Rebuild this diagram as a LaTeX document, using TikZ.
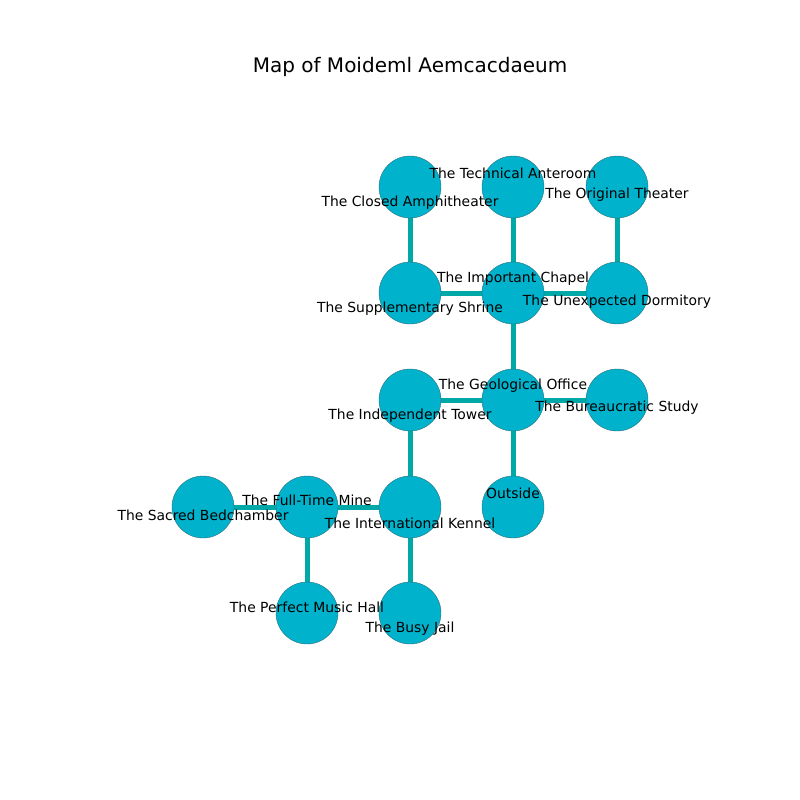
\documentclass[tikz,border=0pt]{standalone}
\usepackage{fontspec}
\setmainfont{DejaVu Sans}
\definecolor{nodefill}{HTML}{00B2CC}
\definecolor{edgecol}{HTML}{00A8A8}
\definecolor{rimcol}{HTML}{2A6E7A}
\pgfdeclarelayer{bg}
\pgfsetlayers{bg,main}
\begin{document}
\begin{tikzpicture}[x=1pt,y=-1pt,
  room/.style={circle,fill=nodefill,draw=rimcol,line width=0.4pt,minimum size=62pt,inner sep=0pt},
  link/.style={draw=edgecol,line width=5pt},
  lbl/.style={font=\fontsize{13.9}{16}\selectfont,text=black,inner sep=0pt,anchor=center}]
\useasboundingbox (0,0) rectangle (800,800);
\node[font=\fontsize{20}{24}\selectfont,inner sep=0pt] (title) at (410,67) {Map of Moideml Aemcacdaeum};
% nodes
\node[room] (amph) at (410,187) {};
\node[room] (ante) at (513,187) {};
\node[room] (theater) at (617,187) {};
\node[room] (shrine) at (410,293) {};
\node[room] (chapel) at (513,293) {};
\node[room] (dorm) at (617,293) {};
\node[room] (tower) at (410,400) {};
\node[room] (office) at (513,400) {};
\node[room] (study) at (617,400) {};
\node[room] (bed) at (203,507) {};
\node[room] (mine) at (307,507) {};
\node[room] (kennel) at (410,507) {};
\node[room] (outside) at (513,507) {};
\node[room] (music) at (307,613) {};
\node[room] (jail) at (410,613) {};
% edges
\begin{pgfonlayer}{bg}
\foreach \a/\b in {amph/shrine,ante/chapel,theater/dorm,shrine/chapel,chapel/dorm,chapel/office,tower/office,office/study,office/outside,tower/kennel,bed/mine,mine/kennel,mine/music,kennel/jail}{
  \draw[link] (\a.center) -- (\b.center);
}
\end{pgfonlayer}
% labels
\node[lbl] (l1) at (410,203) {The Closed Amphitheater};
\node[lbl] (l2) at (513,173) {The Technical Anteroom};
\node[lbl] (l3) at (617,195) {The Original Theater};
\node[lbl] (l4) at (410,309) {The Supplementary Shrine};
\node[lbl] (l5) at (513,279) {The Important Chapel};
\node[lbl] (l6) at (617,302) {The Unexpected Dormitory};
\node[lbl] (l7) at (410,416) {The Independent Tower};
\node[lbl] (l8) at (513,386) {The Geological Office};
\node[lbl] (l9) at (617,408) {The Bureaucratic Study};
\node[lbl] (l10) at (203,515) {The Sacred Bedchamber};
\node[lbl] (l11) at (307,500) {The Full-Time Mine};
\node[lbl] (l12) at (410,523) {The International Kennel};
\node[lbl] (l13) at (513,493) {Outside};
\node[lbl] (l14) at (307,607) {The Perfect Music Hall};
\node[lbl] (l15) at (410,629) {The Busy Jail};
\end{tikzpicture}
\end{document}
